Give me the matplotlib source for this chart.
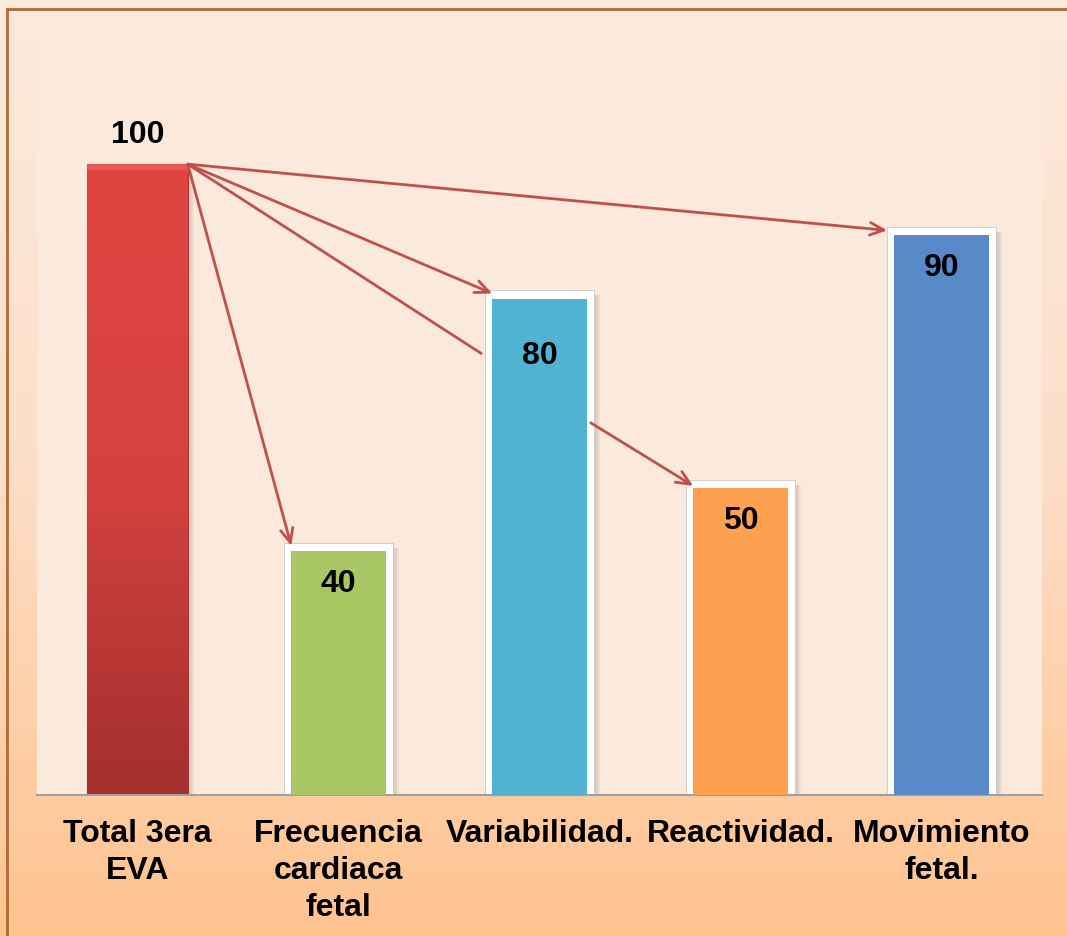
import numpy as np
import matplotlib.pyplot as plt
from matplotlib.patches import Rectangle
from matplotlib.colors import LinearSegmentedColormap

plt.rcParams['font.family'] = ['Liberation Sans', 'DejaVu Sans']

categories = ["Total 3era\nEVA", "Frecuencia\ncardiaca\nfetal", "Variabilidad.",
              "Reactividad.", "Movimiento\nfetal."]
values = [100, 40, 80, 50, 90]
colors = ["#D84340", "#A8C664", "#4FB3D1", "#FDA04F", "#5889C9"]
# label offset from bar top, in points (positive = above)
label_offsets = [21, -30, -47, -30, -29]

W = 1067
H = 936
fig = plt.figure(figsize=(W / 100, H / 100), dpi=100)

# page background: vertical peach gradient
bg = fig.add_axes([0, 0, 1, 1], zorder=-10)
grad = np.linspace(0, 1, 256)[:, None]
bg_cmap = LinearSegmentedColormap.from_list("bg", ["#FCEADC", "#FDDEC8", "#FFC38F"])
bg.imshow(grad, aspect="auto", cmap=bg_cmap, extent=[0, 1, 0, 1], origin="upper")
bg.set_axis_off()
fig.patches.append(Rectangle((7 / W, -0.1), 1.2, 1.1 - 9 / H, transform=fig.transFigure,
                             fill=False, edgecolor="#B06A35", linewidth=2, zorder=5))

ax = fig.add_axes([37 / W, (H - 795) / H, 1005 / W, (795 - 38) / H])
ax.set_facecolor("#FBE9DB")
ax.set_xlim(-0.5, 4.5)
ax.set_ylim(0, 120)
for s in ["top", "right", "left"]:
    ax.spines[s].set_visible(False)
ax.spines["bottom"].set_color("#A0A0A0")
ax.spines["bottom"].set_linewidth(1.5)
ax.set_yticks([])

x = np.arange(len(values))
outer_w = 0.54
inner_w = 0.47
red_w = 0.50

# soft shadows on the right side of every bar
for i, v in enumerate(values):
    w = red_w if i == 0 else outer_w
    for k in range(6):
        ax.add_patch(Rectangle((x[i] + w / 2 - 0.01, 0), 0.012 + k * 0.006, v - 0.8,
                               facecolor="#8A7A70", alpha=0.07, edgecolor="none", zorder=1))

# first bar: red with a vertical gradient
red = ax.bar(x[0], values[0], width=red_w, color=colors[0], edgecolor="#A33432",
             linewidth=0.8, zorder=2)[0]
red_cmap = LinearSegmentedColormap.from_list("red", ["#DF4541", "#D44240", "#A32F2E"])
im = ax.imshow(grad, aspect="auto", cmap=red_cmap, origin="upper", zorder=2.1,
               extent=[x[0] - red_w / 2, x[0] + red_w / 2, 0, values[0]])
im.set_clip_path(red)
ax.add_patch(Rectangle((x[0] - red_w / 2, values[0] - 1.0), red_w, 1.0,
                       facecolor="#E85A55", edgecolor="none", zorder=2.2))

# other bars: white frame with coloured inside
ax.bar(x[1:], values[1:], width=outer_w, color="white", edgecolor="#C8C8C8",
       linewidth=0.6, zorder=2)
ax.bar(x[1:], np.array(values[1:]) - 1.3, width=inner_w, color=colors[1:],
       edgecolor="none", zorder=3)

ax.set_xticks(x)
ax.set_xticklabels(categories, fontsize=23, fontweight="bold", linespacing=1.32)
ax.tick_params(axis="x", length=0, pad=17)

for i, v in enumerate(values):
    ax.annotate(str(v), (x[i], v), xytext=(0, label_offsets[i]), textcoords="offset points",
                ha="center", va="center", fontsize=23, fontweight="bold", zorder=6)

# connector arrows from the total bar
arrow_c = "#C0504D"
head = "->,head_length=1.0,head_width=0.45"
start = (x[0] + red_w / 2, values[0])
ends = [(x[1] - inner_w / 2, values[1] - 0.5),
        (x[2] - inner_w / 2, values[2] - 0.5),
        (x[4] - outer_w / 2, values[4] - 0.5)]
for e in ends:
    ax.annotate("", xy=e, xytext=start, zorder=5,
                arrowprops=dict(arrowstyle=head, color=arrow_c, lw=2, shrinkA=0, shrinkB=0))
ax.annotate("", xy=(x[2] - 0.29, 70), xytext=start, zorder=5,
            arrowprops=dict(arrowstyle="-", color=arrow_c, lw=2, shrinkA=0, shrinkB=0))
ax.annotate("", xy=(x[3] - inner_w / 2, values[3] - 1), xytext=(x[2] + 0.255, 59), zorder=5,
            arrowprops=dict(arrowstyle=head, color=arrow_c, lw=2, shrinkA=0, shrinkB=0))

fig.savefig("out.png", dpi=100)
